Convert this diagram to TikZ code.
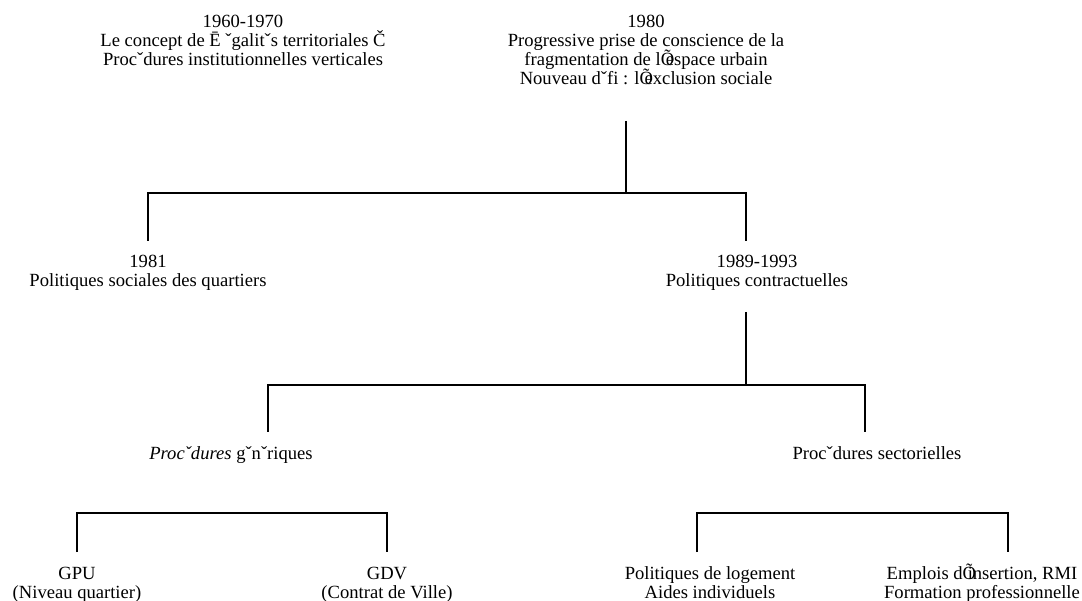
\documentclass[tikz,border=0pt]{standalone}
\usepackage{fontspec}
\setmainfont{Liberation Serif}
\newcommand\mcq{\smash{Õ}\kern-0.45em\relax}
\begin{document}
\begin{tikzpicture}[x=1pt,y=-1pt,
  txt/.style={align=center, inner sep=0pt, anchor=north,
    font=\fontsize{18.6}{19}\selectfont},
  link/.style={draw=black, line width=1.5pt}]
\useasboundingbox (0,0) rectangle (1082,601);

% first row
\node[txt] (n1960) at (243,14.6)
  {1960-1970\\Le concept de Ē ˇgalitˇs territoriales Č\\Procˇdures institutionnelles verticales};
\node[txt] (n1980) at (646,14.6)
  {1980\\Progressive prise de conscience de la\\fragmentation de l\mcq espace urbain\\Nouveau dˇfi : l\mcq exclusion sociale};

% second row
\node[txt] (n1981) at (148,255.4) {1981\\Politiques sociales des quartiers};
\node[txt] (n1989) at (757,255.4) {1989-1993\\Politiques contractuelles};

% third row
\node[txt] (ngen) at (231,446.4) {\textit{Procˇdures} gˇnˇriques};
\node[txt] (nsec) at (877,446.4) {Procˇdures sectorielles};

% fourth row
\node[txt] (ngpu) at (77,566.7) {GPU\\(Niveau quartier)};
\node[txt] (ngdv) at (387,566.7) {GDV\\(Contrat de Ville)};
\node[txt] (nlog) at (710,566.7) {Politiques de logement\\Aides individuels};
\node[txt] (nemp) at (982,566.7) {Emplois d\mcq insertion, RMI\\Formation professionnelle};

% junction points of the tree
\coordinate (s1) at (626,121);
\coordinate (j1) at (626,193);
\coordinate (a1) at (148,241);
\coordinate (a2) at (746,241);
\coordinate (s2) at (746,312);
\coordinate (j2) at (746,385);
\coordinate (b1) at (268,432);
\coordinate (b2) at (865,432);
\coordinate (c1) at (77,552);
\coordinate (c2) at (387,552);
\coordinate (c3) at (697,552);
\coordinate (c4) at (1008,552);

% 1980 -> 1981 / 1989-1993
\draw[link] (s1) -- (j1);
\draw[link] (a1) |- (j1) -| (a2);
% 1989-1993 -> procedures
\draw[link] (s2) -- (j2);
\draw[link] (b1) |- (j2) -| (b2);
% procedures -> instruments
\draw[link] (c1) -- ++(0,-39) -| (c2);
\draw[link] (c3) -- ++(0,-39) -| (c4);
\end{tikzpicture}
\end{document}
